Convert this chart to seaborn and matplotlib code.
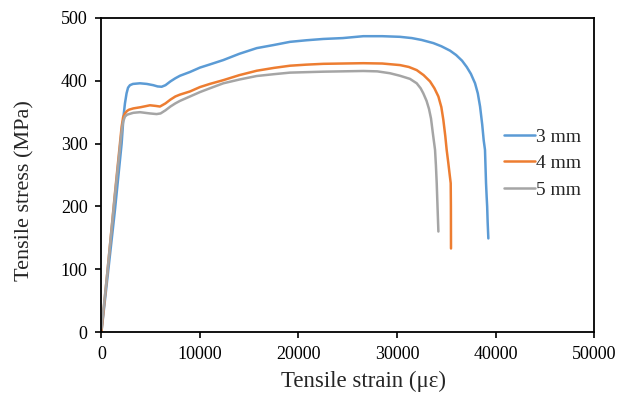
import numpy as np
import pandas as pd
import matplotlib
matplotlib.use("Agg")
import matplotlib.pyplot as plt
import seaborn as sns

# ---- data ----
strain_3mm = [0, 600, 1370, 2050, 2250, 2386, 2550, 2700, 2893, 3200, 3909, 4600, 5260,
              5700, 6110, 6500, 7000, 7500, 7970, 8985, 10000, 11000, 12370, 14000,
              15760, 17500, 19140, 20800, 22520, 24500, 26580, 28500, 30300, 31500,
              32500, 33690, 34500, 35380, 36000, 36600, 37075, 37500, 37920, 38200,
              38430, 38650, 38800, 38930, 39035, 39100, 39150, 39200, 39270]
stress_3mm = [0, 85, 194, 300, 345, 364, 380, 389, 393, 395, 396, 395, 393,
              391, 390.5, 393, 399, 404, 408, 414, 421, 426, 433, 443,
              452, 457, 462, 464.5, 466.6, 468, 471, 471, 470, 468,
              465, 460, 455, 448, 441, 432, 422, 411, 396, 380,
              359, 330, 305, 290, 237, 215, 200, 175, 149]

strain_4mm = [0, 600, 1370, 2050, 2200, 2386, 2600, 2800, 3230, 4000, 4924, 5500, 5940,
              6500, 7000, 7500, 7970, 8985, 10000, 11000, 12370, 14000, 15760, 17500,
              19140, 20800, 22520, 24500, 26580, 28500, 30300, 31200, 32000, 32700,
              33350, 33800, 34200, 34500, 34700, 34900, 35040, 35200, 35350, 35450,
              35470, 35480]
stress_4mm = [0, 95, 221, 327, 342, 348, 352, 354, 356, 358, 361, 360, 359,
              364, 370, 375, 378, 383, 390, 395, 401, 409, 416, 420.5,
              424, 425.7, 427, 427.5, 428, 427.5, 425, 422, 417, 409,
              399, 388, 375, 358, 338, 312, 290, 270, 250, 237,
              200, 133]

strain_5mm = [0, 600, 1370, 2050, 2200, 2386, 2600, 2800, 3230, 3910, 4924, 5600, 6000,
              6500, 7000, 7500, 7970, 8985, 10000, 11000, 12370, 14000, 15760, 17500,
              19140, 22520, 26580, 28000, 29290, 30300, 31320, 32000, 32400, 32670,
              33000, 33250, 33450, 33650, 33860, 33950, 34030, 34100, 34200]
stress_5mm = [5, 95, 218, 320, 335, 343, 346, 347, 349, 350, 348, 347, 348,
              353, 359, 364, 368, 375, 382, 388, 396, 402, 407.6, 410.5,
              413, 414.5, 415.6, 415, 412, 408, 403, 396, 388, 380,
              368, 355, 340, 315, 290, 265, 237, 205, 160]

labels = ["3 mm", "4 mm", "5 mm"]
colors = ["#5B9BD5", "#ED7D31", "#A5A5A5"]

frames = []
for lab, xs, ys in zip(labels, [strain_3mm, strain_4mm, strain_5mm],
                       [stress_3mm, stress_4mm, stress_5mm]):
    frames.append(pd.DataFrame({"strain": xs, "stress": ys, "series": lab}))
df = pd.concat(frames, ignore_index=True)

sns.set_theme(style="ticks")
plt.rcParams["font.family"] = ["Liberation Serif", "DejaVu Serif"]

fig = plt.figure(figsize=(6.34, 3.96), dpi=100)
ax = fig.add_axes([0.160, 0.1616, 0.777, 0.793])

sns.lineplot(data=df, x="strain", y="stress", hue="series", palette=colors,
             hue_order=labels, sort=False, estimator=None, units="series",
             linewidth=1.8, ax=ax)
for ln in ax.get_lines():
    ln.set_solid_joinstyle("round")
    ln.set_solid_capstyle("round")

ax.set_xlim(0, 50000)
ax.set_ylim(0, 500)
ax.set_xticks([0, 10000, 20000, 30000, 40000, 50000])
ax.set_yticks([0, 100, 200, 300, 400, 500])
ax.tick_params(direction="out", length=4, width=1.2, labelsize=13, colors="black")
ax.tick_params(axis="y", pad=6)
ax.tick_params(axis="x", pad=6)
for s in ax.spines.values():
    s.set_visible(True)
    s.set_color("black")
    s.set_linewidth(1.3)

ax.set_xlabel("Tensile strain (\u03bc\u03b5)", fontsize=16.5)
ax.set_ylabel("Tensile stress (MPa)", fontsize=16)
ax.xaxis.set_label_coords(0.531, -0.122)
ax.yaxis.set_label_coords(-0.135, 0.449)

leg = ax.legend(loc="center left", bbox_to_anchor=(0.817, 0.537), frameon=False,
                fontsize=14, handlelength=1.6, handletextpad=0.05,
                labelspacing=0.45, borderpad=0, borderaxespad=0)
for h in leg.get_lines():
    h.set_linewidth(1.8)

fig.savefig("out.png", dpi=100, facecolor="white")
